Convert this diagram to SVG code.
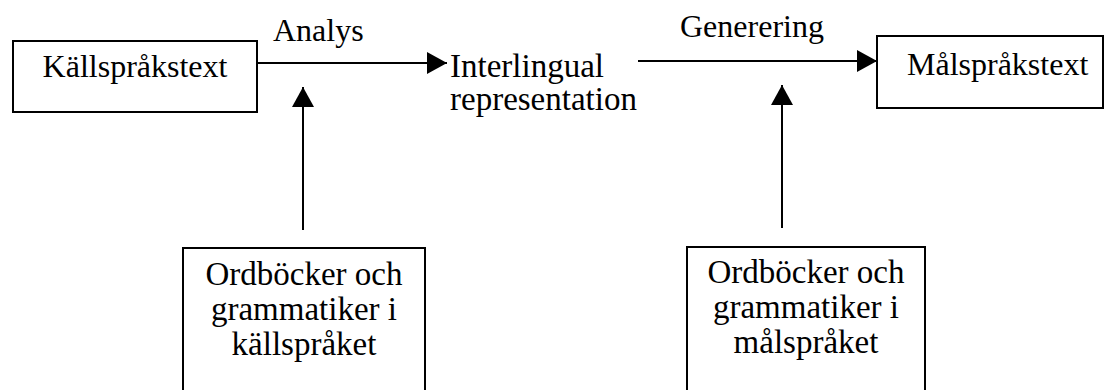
<svg xmlns="http://www.w3.org/2000/svg" width="1104" height="390" viewBox="0 0 1104 390">
<style>
.box{fill:#fff;stroke:#000;stroke-width:2}
.t{font-family:"Liberation Serif","Times New Roman",serif;font-size:32px;fill:#000}
.t33{font-family:"Liberation Serif","Times New Roman",serif;font-size:33px;fill:#000}
.c{stroke:#000;stroke-width:2;fill:none;marker-end:url(#ah)}
</style>
<defs>
<marker id="ah" markerUnits="userSpaceOnUse" markerWidth="22" markerHeight="24" refX="20" refY="11" orient="auto">
<path d="M0,0 L20,11 L0,22 Z" fill="#000"/>
</marker>
</defs>
<rect width="1104" height="390" fill="#fff"/>
<g id="connectors">
<line class="c" x1="257" y1="63" x2="447" y2="63"/>
<line class="c" x1="638" y1="61" x2="877" y2="61"/>
<line class="c" x1="303" y1="230" x2="303" y2="87"/>
<line class="c" x1="782" y1="228" x2="782" y2="85"/>
<text class="t" x="273" y="41">Analys</text>
<text class="t" x="680" y="37">Generering</text>
</g>
<g id="kallsprakstext">
<rect class="box" x="13" y="41" width="244" height="71"/>
<text class="t" x="135" y="77" text-anchor="middle">Källspråkstext</text>
</g>
<g id="interlingual">
<text class="t33" x="450" y="77">Interlingual</text>
<text class="t33" x="450" y="110">representation</text>
</g>
<g id="malsprakstext">
<rect class="box" x="877" y="36" width="226" height="72"/>
<text class="t" x="907" y="75">Målspråkstext</text>
</g>
<g id="ordbocker-kall">
<rect class="box" x="183" y="248" width="242" height="160"/>
<text class="t33" x="304" y="285" text-anchor="middle">Ordböcker och</text>
<text class="t33" x="304" y="320" text-anchor="middle">grammatiker i</text>
<text class="t33" x="304" y="355" text-anchor="middle">källspråket</text>
</g>
<g id="ordbocker-mal">
<rect class="box" x="687" y="247" width="238" height="160"/>
<text class="t33" x="806" y="283" text-anchor="middle">Ordböcker och</text>
<text class="t33" x="806" y="318" text-anchor="middle">grammatiker i</text>
<text class="t33" x="806" y="353" text-anchor="middle">målspråket</text>
</g>
</svg>
